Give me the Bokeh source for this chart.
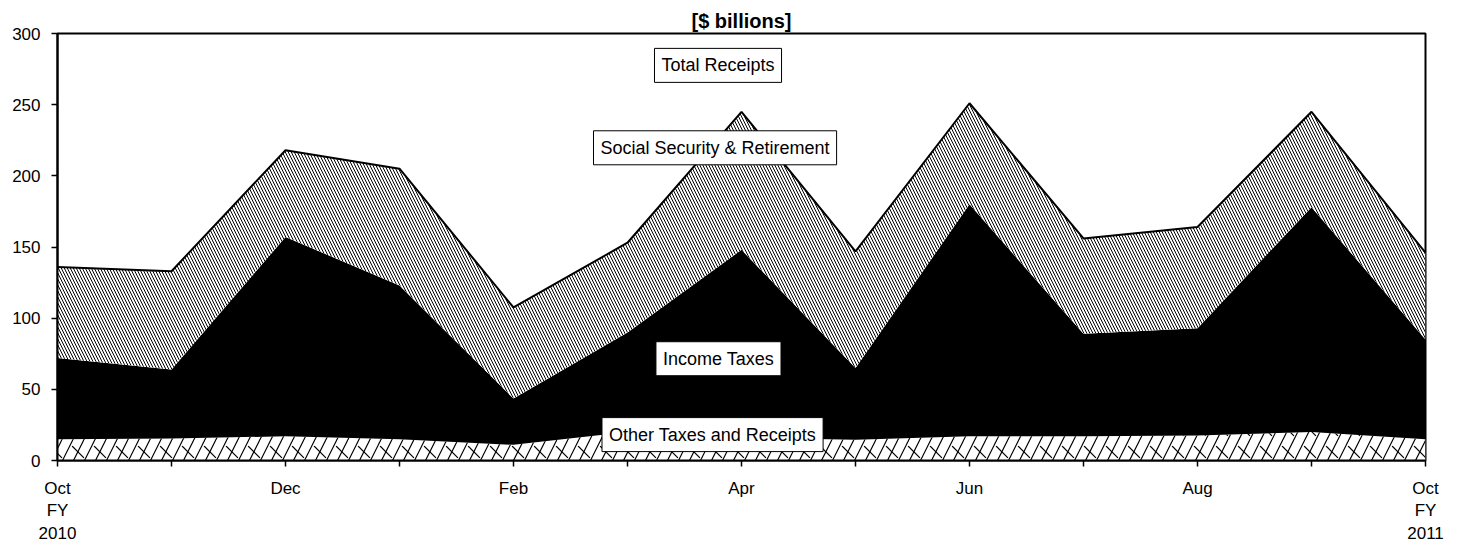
import numpy as np
from bokeh.plotting import figure
from bokeh.models import FixedTicker, Label, Range1d
from bokeh.embed import file_html
from bokeh.resources import INLINE

# ---- data ($ billions) ----
months = list(range(13))  # Oct FY2010 .. Oct FY2011
tick_labels = ["Oct\nFY\n2010", "", "Dec", "", "Feb", "", "Apr", "", "Jun", "", "Aug", "", "Oct\nFY\n2011"]
other_taxes = [15, 15.5, 17, 15, 11, 20, 16, 14.5, 17, 17, 17.5, 20, 15]
income_taxes = [57, 48.5, 140, 108, 32.5, 70, 132, 50.5, 163, 72, 75.5, 158, 70]
social_security = [64, 69, 61, 82, 64, 63, 97, 82, 71, 67, 71, 67, 61]
series_labels = ["Total Receipts", "Social Security & Retirement", "Income Taxes", "Other Taxes and Receipts"]

FONT = "Liberation Sans"

x = np.array(months, dtype=float)
l1 = np.array(other_taxes, dtype=float)
l2 = l1 + np.array(income_taxes, dtype=float)
l3 = l2 + np.array(social_security, dtype=float)
zero = np.zeros_like(x)

p = figure(width=1447, height=546, output_backend="svg", toolbar_location=None,
           x_range=Range1d(0, 12), y_range=Range1d(0, 300),
           min_border_left=57, min_border_right=22, min_border_top=33, min_border_bottom=85,
           title="[$ billions]")
p.title.align = "center"
p.title.text_font = FONT
p.title.text_font_size = "20px"
p.title.text_font_style = "bold"
p.title.text_color = "black"
p.title.standoff = 3
p.title.offset = 0

p.grid.visible = False
p.outline_line_color = "black"
p.outline_line_width = 2
p.background_fill_color = "white"
p.border_fill_color = "white"

# other taxes: brick-like hatch
p.varea(x=x, y1=zero, y2=l1, fill_color="white", hatch_pattern="/", hatch_scale=22,
        hatch_color="black", hatch_weight=1.2)
p.varea(x=x, y1=zero, y2=l1, fill_color=None, hatch_pattern="`", hatch_scale=22,
        hatch_color="black", hatch_weight=1.2)
# income taxes: solid black
p.varea(x=x, y1=l1, y2=l2, fill_color="black")
# social security: diagonal hatch
p.varea(x=x, y1=l2, y2=l3, fill_color="white", hatch_pattern="\\", hatch_scale=6,
        hatch_color="black", hatch_weight=1.0)
p.line(x, l3, line_color="black", line_width=2)

# axes
p.xaxis.ticker = FixedTicker(ticks=months)
p.xaxis.major_label_overrides = {i: t for i, t in zip(months, tick_labels)}
p.yaxis.ticker = FixedTicker(ticks=[0, 50, 100, 150, 200, 250, 300])
for ax in (p.xaxis[0], p.yaxis[0]):
    ax.major_label_text_font = FONT
    ax.major_label_text_font_size = "17px"
    ax.major_label_text_color = "black"
    ax.axis_line_color = "black"
    ax.axis_line_width = 2
    ax.major_tick_line_color = "black"
    ax.major_tick_line_width = 1.5
    ax.major_tick_in = 0
    ax.major_tick_out = 6
    ax.minor_tick_line_color = None
p.yaxis.major_label_standoff = 11
p.xaxis.major_label_standoff = 12

# series labels (boxed)
label_pos = [(5.794, 277.6), (5.768, 219.7), (5.798, 71.5), (5.746, 18.2)]
for txt, (lx, ly) in zip(series_labels, label_pos):
    p.add_layout(Label(x=lx, y=ly, text=txt, text_align="center", text_baseline="middle",
                       text_font=FONT, text_font_size="18px", text_color="black",
                       background_fill_color="white", border_line_color="black",
                       border_line_width=1, padding=7))

open("out.html", "w").write(file_html(p, INLINE))
